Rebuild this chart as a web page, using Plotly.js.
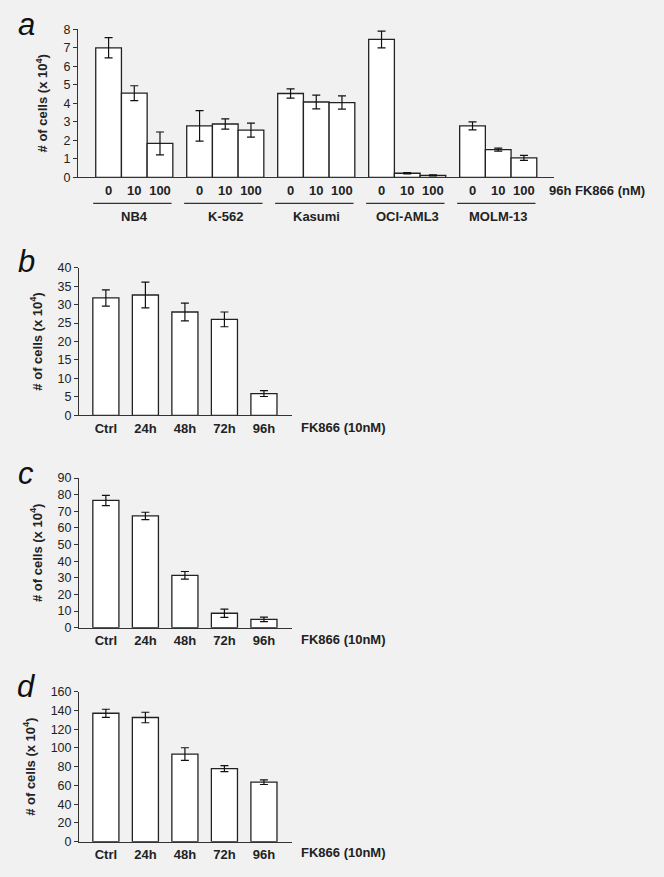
<!DOCTYPE html>
<html>
<head>
<meta charset="utf-8">
<script src="https://cdn.plot.ly/plotly-3.0.1.min.js"></script>
<style>
  html, body { margin: 0; padding: 0; background: #f1f1f1; }
  #chart { width: 664px; height: 877px; }
</style>
</head>
<body>
<div id="chart"></div>
<script>
// ---------- DATA ----------
const groups = ['NB4', 'K-562', 'Kasumi', 'OCI-AML3', 'MOLM-13'];
const doses = ['0', '10', '100'];
const aMeans = [
  [7.0, 4.55, 1.83],
  [2.78, 2.88, 2.55],
  [4.53, 4.07, 4.04],
  [7.45, 0.22, 0.10],
  [2.78, 1.50, 1.05]
];
const aErrors = [
  [0.55, 0.40, 0.62],
  [0.82, 0.28, 0.38],
  [0.25, 0.37, 0.36],
  [0.45, 0.03, 0.03],
  [0.22, 0.08, 0.14]
];
const times = ['Ctrl', '24h', '48h', '72h', '96h'];
const bMeans = [31.8, 32.6, 28.0, 26.0, 5.9];
const bErrors = [2.2, 3.5, 2.4, 2.0, 0.8];
const cMeans = [76.5, 67.2, 31.5, 8.7, 5.0];
const cErrors = [3.1, 2.2, 2.3, 2.5, 1.4];
const dMeans = [137, 132.5, 93.5, 78, 63.5];
const dErrors = [4.3, 5.6, 6.7, 3.2, 2.5];

// ---------- LAYOUT HELPERS ----------
const W = 664, H = 877;
const fx = p => p / W;
const fy = p => 1 - p / H;
const GROUP_PITCH = 3.54;
const FONT = 'Liberation Sans, Arial, sans-serif';
const INK = '#222';
const BG = '#f1f1f1';

// panel a positions built from group/dose indices
const aX = [], aY = [], aE = [], aTickVals = [], aTickText = [];
groups.forEach((g, gi) => {
  doses.forEach((d, di) => {
    const pos = gi * GROUP_PITCH + di;
    aX.push(pos); aY.push(aMeans[gi][di]); aE.push(aErrors[gi][di]);
    aTickVals.push(pos); aTickText.push(d);
  });
});

const barStyle = { color: '#ffffff', line: { color: INK, width: 1.3 } };
const errStyle = arr => ({ type: 'data', array: arr, visible: true, color: '#111', thickness: 1.2, width: 4 });

const traces = [
  { type: 'bar', x: aX, y: aY, width: 1, marker: barStyle, error_y: errStyle(aE), xaxis: 'x', yaxis: 'y', showlegend: false, hoverinfo: 'y' },
  { type: 'bar', x: times, y: bMeans, width: 0.66, marker: barStyle, error_y: errStyle(bErrors), xaxis: 'x2', yaxis: 'y2', showlegend: false },
  { type: 'bar', x: times, y: cMeans, width: 0.66, marker: barStyle, error_y: errStyle(cErrors), xaxis: 'x3', yaxis: 'y3', showlegend: false },
  { type: 'bar', x: times, y: dMeans, width: 0.66, marker: barStyle, error_y: errStyle(dErrors), xaxis: 'x4', yaxis: 'y4', showlegend: false }
];

const yTitle = '# of cells (x 10<sup>4</sup>)';
function yAxis(domain, range, dtick, anchor) {
  return {
    domain: domain, range: range, dtick: dtick, tick0: 0, anchor: anchor,
    showgrid: false, zeroline: false, showline: true, linecolor: '#333', linewidth: 1,
    ticks: 'outside', ticklen: 4, tickwidth: 1, tickcolor: '#333',
    tickfont: { family: FONT, size: 12.5, color: INK },
    title: { text: yTitle, font: { family: FONT, size: 13, color: INK, weight: 'bold' }, standoff: 12 },
    fixedrange: true
  };
}
function xCat(domain, anchor) {
  return {
    domain: domain, anchor: anchor, type: 'category', range: [-0.68, 4.71],
    showgrid: false, zeroline: false, showline: true, linecolor: '#333', linewidth: 1,
    ticks: 'outside', ticklen: 1, tickcolor: 'rgba(0,0,0,0)',
    tickfont: { family: FONT, size: 13, color: INK, weight: 'bold' },
    fixedrange: true
  };
}

const xDomA = [fx(78), fx(554)];
const xDomB = [fx(79), fx(292)];

const layout = {
  width: W, height: H,
  margin: { l: 0, r: 0, t: 0, b: 0, pad: 0 },
  paper_bgcolor: BG, plot_bgcolor: BG,
  bargap: 0,
  font: { family: FONT, color: INK },
  xaxis: {
    domain: xDomA, anchor: 'y', range: [-1.19, 17.33],
    tickvals: aTickVals, ticktext: aTickText,
    showgrid: false, zeroline: false, showline: true, linecolor: '#333', linewidth: 1,
    ticks: 'outside', ticklen: 1, tickcolor: 'rgba(0,0,0,0)',
    tickfont: { family: FONT, size: 13, color: INK, weight: 'bold' },
    fixedrange: true
  },
  yaxis: yAxis([fy(177.3), fy(29.3)], [0, 8], 1, 'x'),
  xaxis2: xCat(xDomB, 'y2'),
  yaxis2: yAxis([fy(415.3), fy(267.7)], [0, 40], 5, 'x2'),
  xaxis3: xCat(xDomB, 'y3'),
  yaxis3: yAxis([fy(627.7), fy(478)], [0, 90], 10, 'x3'),
  xaxis4: xCat(xDomB, 'y4'),
  yaxis4: yAxis([fy(841.7), fy(691.7)], [0, 160], 20, 'x4'),
  shapes: [],
  annotations: []
};

// group underlines and names for panel a
groups.forEach((g, gi) => {
  const start = gi * GROUP_PITCH;
  layout.shapes.push({
    type: 'line', xref: 'x', yref: 'paper',
    x0: start - 0.6, x1: start + 2.45, y0: fy(203.3), y1: fy(203.3),
    line: { color: '#333', width: 1.3 }
  });
  layout.annotations.push({
    text: '<b>' + g + '</b>', xref: 'x', yref: 'paper', x: start + 1, y: fy(216.7),
    xanchor: 'center', yanchor: 'middle', showarrow: false,
    font: { family: FONT, size: 13, color: INK }
  });
});

// condition labels
layout.annotations.push({
  text: '<b>96h FK866 (nM)</b>', xref: 'paper', yref: 'paper', x: fx(547), y: fy(190),
  xanchor: 'left', yanchor: 'middle', showarrow: false, font: { family: FONT, size: 13, color: INK }
});
[427.3, 639.3, 852.7].forEach(py => {
  layout.annotations.push({
    text: '<b>FK866 (10nM)</b>', xref: 'paper', yref: 'paper', x: fx(299), y: fy(py),
    xanchor: 'left', yanchor: 'middle', showarrow: false, font: { family: FONT, size: 13, color: INK }
  });
});

// panel letters
[['a', 24], ['b', 261], ['c', 474], ['d', 686]].forEach(([t, py]) => {
  layout.annotations.push({
    text: '<i>' + t + '</i>', xref: 'paper', yref: 'paper', x: fx(26), y: fy(py),
    xanchor: 'center', yanchor: 'middle', showarrow: false,
    font: { family: FONT, size: 31, color: '#111' }
  });
});

Plotly.newPlot('chart', traces, layout, { displayModeBar: false, staticPlot: true });
</script>
</body>
</html>
